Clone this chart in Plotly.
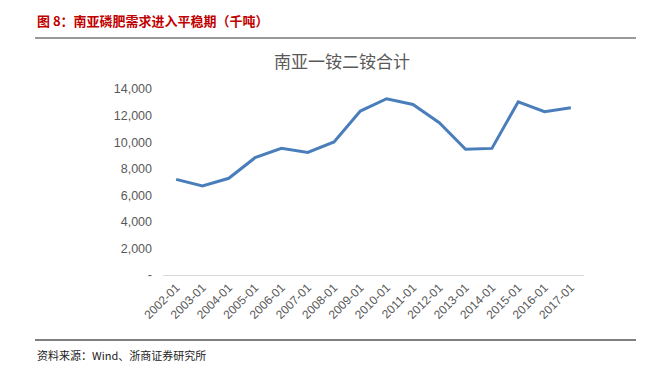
import plotly.graph_objects as go

categories = ["2002-01","2003-01","2004-01","2005-01","2006-01","2007-01","2008-01","2009-01",
              "2010-01","2011-01","2012-01","2013-01","2014-01","2015-01","2016-01","2017-01"]
values = [7200, 6700, 7280, 8830, 9530, 9230, 10010, 12340,
          13270, 12840, 11460, 9460, 9530, 13040, 12290, 12590]
y_tickvals = [0, 2000, 4000, 6000, 8000, 10000, 12000, 14000]
y_ticktext = ["-", "2,000", "4,000", "6,000", "8,000", "10,000", "12,000", "14,000"]

# page body has an 8px offset
OFF = 8
PL, PR, PT, PB = 163, 584, 89, 275  # plot area in window pixels
W, H = 669 - OFF, 370 - OFF

def px(x):
    return (x - PL) / (PR - PL)

def py(y):
    return (PB - y) / (PB - PT)

fig = go.Figure()
fig.add_trace(go.Scatter(x=categories, y=values, mode="lines",
                         line=dict(color="#4a7ebb", width=3), showlegend=False))

fig.update_layout(
    width=W, height=H,
    margin=dict(l=PL - OFF, r=669 - PR, t=PT - OFF, b=370 - PB),
    paper_bgcolor="white", plot_bgcolor="white",
    font=dict(family="Liberation Sans, Arial, sans-serif", color="#595959"),
    xaxis=dict(type="category", range=[-0.5, 15.5], tickangle=-45,
               tickfont=dict(size=12, color="#595959"),
               showline=True, linecolor="#d9d9d9", linewidth=1,
               showgrid=False, ticks="", zeroline=False),
    yaxis=dict(range=[0, 14000], tickvals=y_tickvals, ticktext=y_ticktext,
               tickfont=dict(size=12.5, color="#595959"),
               showgrid=False, zeroline=False, showline=False, ticks="",
               ticklabelstandoff=10),
    annotations=[
        dict(text="<b>图 8：南亚磷肥需求进入平稳期（千吨）</b>", xref="paper", yref="paper",
             x=px(35), y=py(20), xanchor="left", yanchor="middle",
             showarrow=False, font=dict(family="Noto Sans CJK SC", size=13, color="#c00000")),
        dict(text="南亚一铵二铵合计", xref="paper", yref="paper",
             x=px(342), y=py(61), xanchor="center", yanchor="middle",
             showarrow=False, font=dict(family="Noto Sans CJK SC", size=17, color="#595959")),
        dict(text="资料来源：Wind、浙商证券研究所", xref="paper", yref="paper",
             x=px(35), y=py(355), xanchor="left", yanchor="middle",
             showarrow=False, font=dict(family="Noto Sans CJK SC", size=11, color="#222222")),
    ],
    shapes=[
        dict(type="line", xref="paper", yref="paper", x0=px(35), x1=px(636),
             y0=py(38), y1=py(38), line=dict(color="#777777", width=1.5)),
        dict(type="line", xref="paper", yref="paper", x0=px(35), x1=px(636),
             y0=py(340), y1=py(340), line=dict(color="#555555", width=1.5)),
    ],
)

fig.write_html("out.html")
